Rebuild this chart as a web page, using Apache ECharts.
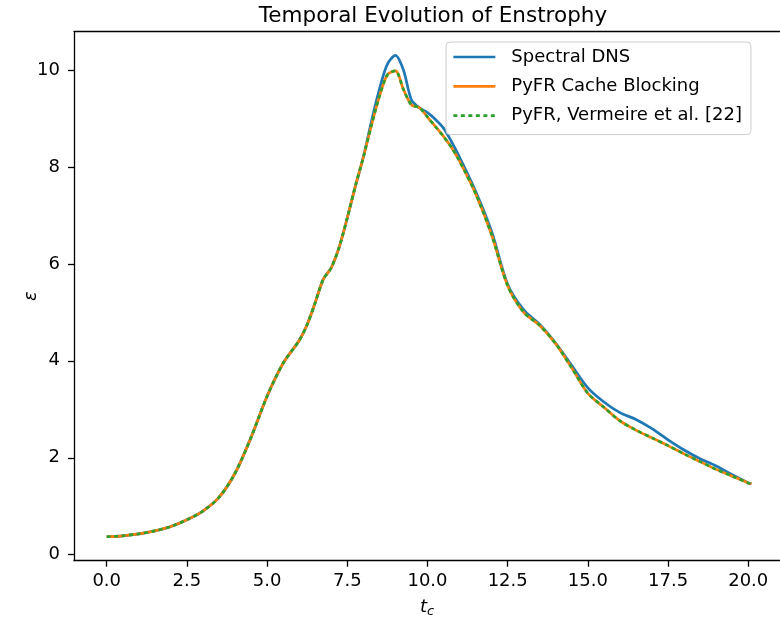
<!DOCTYPE html>
<html>
<head>
<meta charset="utf-8">
<script src="https://cdn.jsdelivr.net/npm/echarts@6/dist/echarts.min.js"></script>
<style>html,body{margin:0;padding:0;background:#fff}#c{width:780px;height:623px}</style>
</head>
<body>
<div id="c"></div>
<script>
// Time samples (t_c)
var tBlue = [0,0.5,1,1.5,2,2.5,3,3.5,4,4.5,5,5.5,6,6.25,6.5,6.75,7,7.25,7.5,7.75,8,8.25,8.5,8.75,9,9.25,9.5,9.75,10,10.25,10.5,10.75,11,11.5,12,12.5,13,13.5,14,14.5,15,15.5,16,16.5,17,17.5,18,18.5,19,19.5,20,20.1];
var spectralDNS = [0.37,0.39,0.43,0.49,0.58,0.72,0.9,1.18,1.68,2.42,3.27,3.95,4.42,4.75,5.2,5.68,5.92,6.35,6.95,7.6,8.2,8.93,9.6,10.12,10.3,10.0,9.38,9.22,9.12,8.98,8.8,8.52,8.2,7.5,6.67,5.58,5.05,4.75,4.36,3.9,3.44,3.15,2.93,2.79,2.6,2.37,2.16,1.98,1.83,1.65,1.48,1.46];

var tPyFR = [0,0.5,1,1.5,2,2.5,3,3.5,4,4.5,5,5.5,6,6.25,6.5,6.75,7,7.25,7.5,7.75,8,8.25,8.5,8.75,9,9.25,9.5,9.75,10,10.25,10.5,10.75,11,11.5,12,12.5,13,13.5,14,14.5,15,15.5,16,16.5,17,17.5,18,18.5,19,19.5,20,20.1];
var pyfrCacheBlocking = [0.37,0.39,0.43,0.49,0.58,0.72,0.9,1.18,1.68,2.42,3.27,3.95,4.42,4.75,5.2,5.68,5.92,6.35,6.95,7.6,8.2,8.85,9.45,9.9,9.98,9.6,9.28,9.22,9.03,8.83,8.63,8.4,8.12,7.45,6.6,5.55,5.0,4.73,4.35,3.85,3.33,3.04,2.76,2.57,2.41,2.25,2.08,1.92,1.76,1.62,1.48,1.46];
var pyfrVermeire = [0.37,0.39,0.43,0.49,0.58,0.72,0.9,1.18,1.68,2.42,3.27,3.95,4.42,4.75,5.2,5.68,5.92,6.35,6.95,7.6,8.2,8.85,9.45,9.9,9.98,9.6,9.28,9.22,9.03,8.83,8.63,8.4,8.12,7.45,6.6,5.55,5.0,4.73,4.35,3.85,3.33,3.04,2.76,2.57,2.41,2.25,2.08,1.92,1.76,1.62,1.48,1.46];

var xTicks = [0,2.5,5,7.5,10,12.5,15,17.5,20];
var yTicks = [0,2,4,6,8,10];
var seriesNames = ['Spectral DNS','PyFR Cache Blocking','PyFR, Vermeire et al. [22]'];

function pairs(t, v){ return t.map(function(x,i){ return [x, v[i]]; }); }

var FONT = 'DejaVu Sans';
var chart = echarts.init(document.getElementById('c'), null, {renderer:'canvas'});
chart.setOption({
  animation: false,
  backgroundColor: '#fff',
  title: {
    text: 'Temporal Evolution of Enstrophy',
    left: 428, top: 0, textAlign: 'center',
    textStyle: {fontFamily: FONT, fontSize: 21.5, fontWeight: 'normal', color: '#000'}
  },
  grid: {left: 74, top: 31.7, right: 0, bottom: 62.3, containLabel: false},
  legend: {
    orient: 'vertical', left: 446, top: 42,
    padding: [6, 9, 10, 6], itemGap: 11.3, itemWidth: 42, itemHeight: 18,
    backgroundColor: 'rgba(255,255,255,0.8)', borderColor: '#cccccc', borderWidth: 1, borderRadius: 4,
    itemStyle: {opacity: 0},
    lineStyle: {width: 2.7},
    textStyle: {fontFamily: FONT, fontSize: 18, color: '#000', lineHeight: 18, padding: [0,0,0,11]},
    data: seriesNames
  },
  xAxis: [{
    type: 'value', min: -1.02, max: 20.99,
    name: '{i|t}{s|c}', nameLocation: 'middle', nameGap: 36, nameMoveOverlap: false,
    nameTextStyle: {rich: {
      i: {fontFamily: FONT, fontStyle: 'italic', fontSize: 18, color: '#000'},
      s: {fontFamily: FONT, fontStyle: 'italic', fontSize: 13, color: '#000', verticalAlign: 'bottom', padding: [8,0,0,0]}
    }},
    axisLine: {show: true, onZero: false, lineStyle: {color: '#000', width: 1.3}},
    axisTick: {show: true, inside: false, length: 6, lineStyle: {color: '#000', width: 1.3}, customValues: xTicks},
    axisLabel: {show: true, margin: 12, fontFamily: FONT, fontSize: 18, color: '#000', customValues: xTicks,
      formatter: function(v){ return v.toFixed(1); }},
    splitLine: {show: false}
  },{
    type: 'value', position: 'top', min: -1.02, max: 20.99,
    axisLine: {show: true, onZero: false, lineStyle: {color: '#000', width: 1.3}},
    axisTick: {show: false}, axisLabel: {show: false}, splitLine: {show: false}
  }],
  yAxis: {
    type: 'value', min: -0.124, max: 10.79,
    name: 'ε', nameLocation: 'middle', nameGap: 34, nameRotate: 90, nameMoveOverlap: false,
    nameTextStyle: {fontFamily: FONT, fontStyle: 'italic', fontSize: 18, color: '#000'},
    axisLine: {show: true, onZero: false, lineStyle: {color: '#000', width: 1.3}},
    axisTick: {show: true, inside: false, length: 6, lineStyle: {color: '#000', width: 1.3}, customValues: yTicks},
    axisLabel: {show: true, margin: 14, fontFamily: FONT, fontSize: 18, color: '#000', customValues: yTicks,
      formatter: function(v){ return String(Math.round(v)); }},
    splitLine: {show: false}
  },
  series: [
    {name: seriesNames[0], type: 'line', xAxisIndex: 0, data: pairs(tBlue, spectralDNS), symbol: 'none', smooth: 0.3,
     lineStyle: {color: '#1f77b4', width: 2.7}, itemStyle: {color: '#1f77b4'}},
    {name: seriesNames[1], type: 'line', xAxisIndex: 0, data: pairs(tPyFR, pyfrCacheBlocking), symbol: 'none', smooth: 0.3,
     lineStyle: {color: '#ff7f0e', width: 2.7}, itemStyle: {color: '#ff7f0e'}},
    {name: seriesNames[2], type: 'line', xAxisIndex: 0, data: pairs(tPyFR, pyfrVermeire), symbol: 'none', smooth: 0.3,
     lineStyle: {color: '#2ca02c', width: 2.7, type: [4, 3.5]}, itemStyle: {color: '#2ca02c'}}
  ]
});
</script>
</body>
</html>
